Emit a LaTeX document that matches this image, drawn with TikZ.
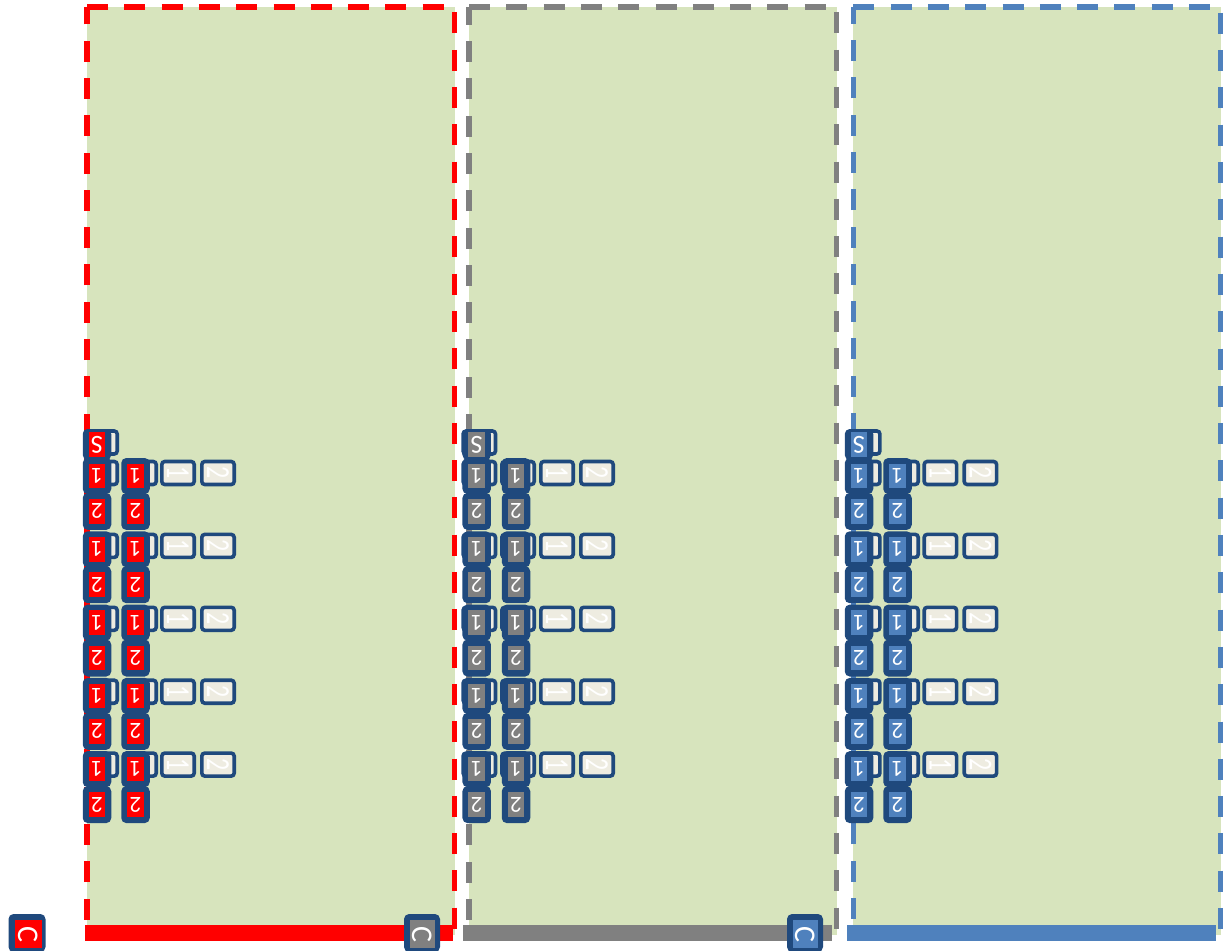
\documentclass[tikz,border=0pt]{standalone}
\usepackage{fontspec}
\setmainfont{Carlito}
\definecolor{bordc}{HTML}{1F497D}
\definecolor{greenf}{HTML}{D7E4BD}
\definecolor{lightf}{HTML}{EEECE1}
\definecolor{pred}{HTML}{FF0000}
\definecolor{pgray}{HTML}{808080}
\definecolor{pblue}{HTML}{4F81BD}
\newcommand\lbnum[1]{\rotatebox{-90}{\scalebox{1}[1.4]{#1}}}
\newcommand\stackpanel[8]{%
  % #1 id, #2 fill colour, #3 A x, #4 B x, #5 hidden A x, #6 hidden B x, #7 L1 x, #8 L2 x
  \node[lbox] (#1hs) at (#5,442.5) {};
  \node[obox, minimum height=31pt] (#1s) at (#3,444.5) {};
  \node[ibox, fill=#2, font=\fontsize{26}{26}\selectfont] (#1st) at (#3,444.5) {S};
  \foreach \k in {0,...,4}{
    \pgfmathsetmacro\ya{476+73.3*\k}
    \pgfmathsetmacro\yb{511.4+73.3*\k}
    \pgfmathsetmacro\yl{473+72.9*\k}
    \node[lbox] (#1ha\k) at (#5,\yl) {};
    \node[lbox] (#1hb\k) at (#6,\yl) {};
    \node[lbox] (#1la\k) at (#7,\yl) {\lbnum{1}};
    \node[lbox] (#1lb\k) at (#8,\yl) {\lbnum{2}};
    \node[obox] (#1a\k) at (#3,\ya) {};
    \node[ibox, fill=#2] (#1at\k) at (#3,\ya) {1};
    \node[obox] (#1b\k) at (#4,\ya) {};
    \node[ibox, fill=#2] (#1bt\k) at (#4,\ya) {1};
    \node[obox, minimum height=37pt] (#1c\k) at (#3,\yb) {};
    \node[ibox, fill=#2] (#1ct\k) at (#3,\yb) {2};
    \node[obox, minimum height=37pt] (#1d\k) at (#4,\yb) {};
    \node[ibox, fill=#2] (#1dt\k) at (#4,\yb) {2};
  }
}
\tikzset{
  x=1pt, y=-1pt,
  panelline/.style={line width=5.3pt, dash pattern=on 21pt off 16.3pt},
  obox/.style={fill=bordc, rounded corners=5pt, minimum width=28.5pt, minimum height=36pt, inner sep=0pt},
  ibox/.style={minimum width=16.5pt, minimum height=24.5pt, inner sep=0pt, text=white, rotate=180, font=\fontsize{23}{23}\selectfont},
  lbox/.style={draw=bordc, line width=3.6pt, fill=lightf, rounded corners=3pt, minimum width=32.4pt, minimum height=23pt, inner sep=0pt, text=white, font=\fontsize{24}{24}\selectfont},
  cout/.style={fill=bordc, rounded corners=5pt, minimum width=37pt, minimum height=38pt, inner sep=0pt},
  cin/.style={minimum width=27pt, minimum height=28pt, inner sep=0pt, text=white, font=\fontsize{30}{30}\selectfont},
}
\begin{document}
\begin{tikzpicture}
\useasboundingbox (0,0) rectangle (1228,950);
\clip (0,0) rectangle (1228,950);
% panels
\fill[greenf] (87,7) rectangle (455,935);
\fill[greenf] (469,7) rectangle (836.7,935);
\fill[greenf] (853.3,7) rectangle (1220.5,935);
\draw[panelline, draw=pred] (87,7) -- (454.5,7) -- (454.5,935) -- (87,935) -- cycle;
\draw[panelline, draw=pgray] (469,7) -- (836.7,7) -- (836.7,935) -- (469,935) -- cycle;
\draw[panelline, draw=pblue] (853.3,7) -- (1220.5,7) -- (1220.5,935) -- (853.3,935) -- cycle;
% bars
\fill[pred] (85,925) rectangle (453,941);
\fill[pgray] (463,925) rectangle (832,941);
\fill[pblue] (847,925) rectangle (1216,941);
% C nodes
\node[cout] (c1) at (27,933) {};
\node[cin, fill=pred] (c1t) at (28,934) {\rotatebox{-90}{C}};
\node[cout, minimum width=36pt] (c2) at (422,933) {};
\node[cin, minimum width=25pt, fill=pgray] (c2t) at (422.5,934) {\rotatebox{-90}{C}};
\node[cout, minimum width=36pt] (c3) at (805,933) {};
\node[cin, minimum width=25pt, fill=pblue] (c3t) at (805.5,934) {\rotatebox{-90}{C}};
% stacks
\stackpanel{p}{pred}{97}{135.5}{101}{140}{178}{218}
\stackpanel{q}{pgray}{476.7}{516}{479.3}{518}{557}{597}
\stackpanel{r}{pblue}{859}{897.5}{863.7}{902}{940.4}{980.4}
\end{tikzpicture}
\end{document}
